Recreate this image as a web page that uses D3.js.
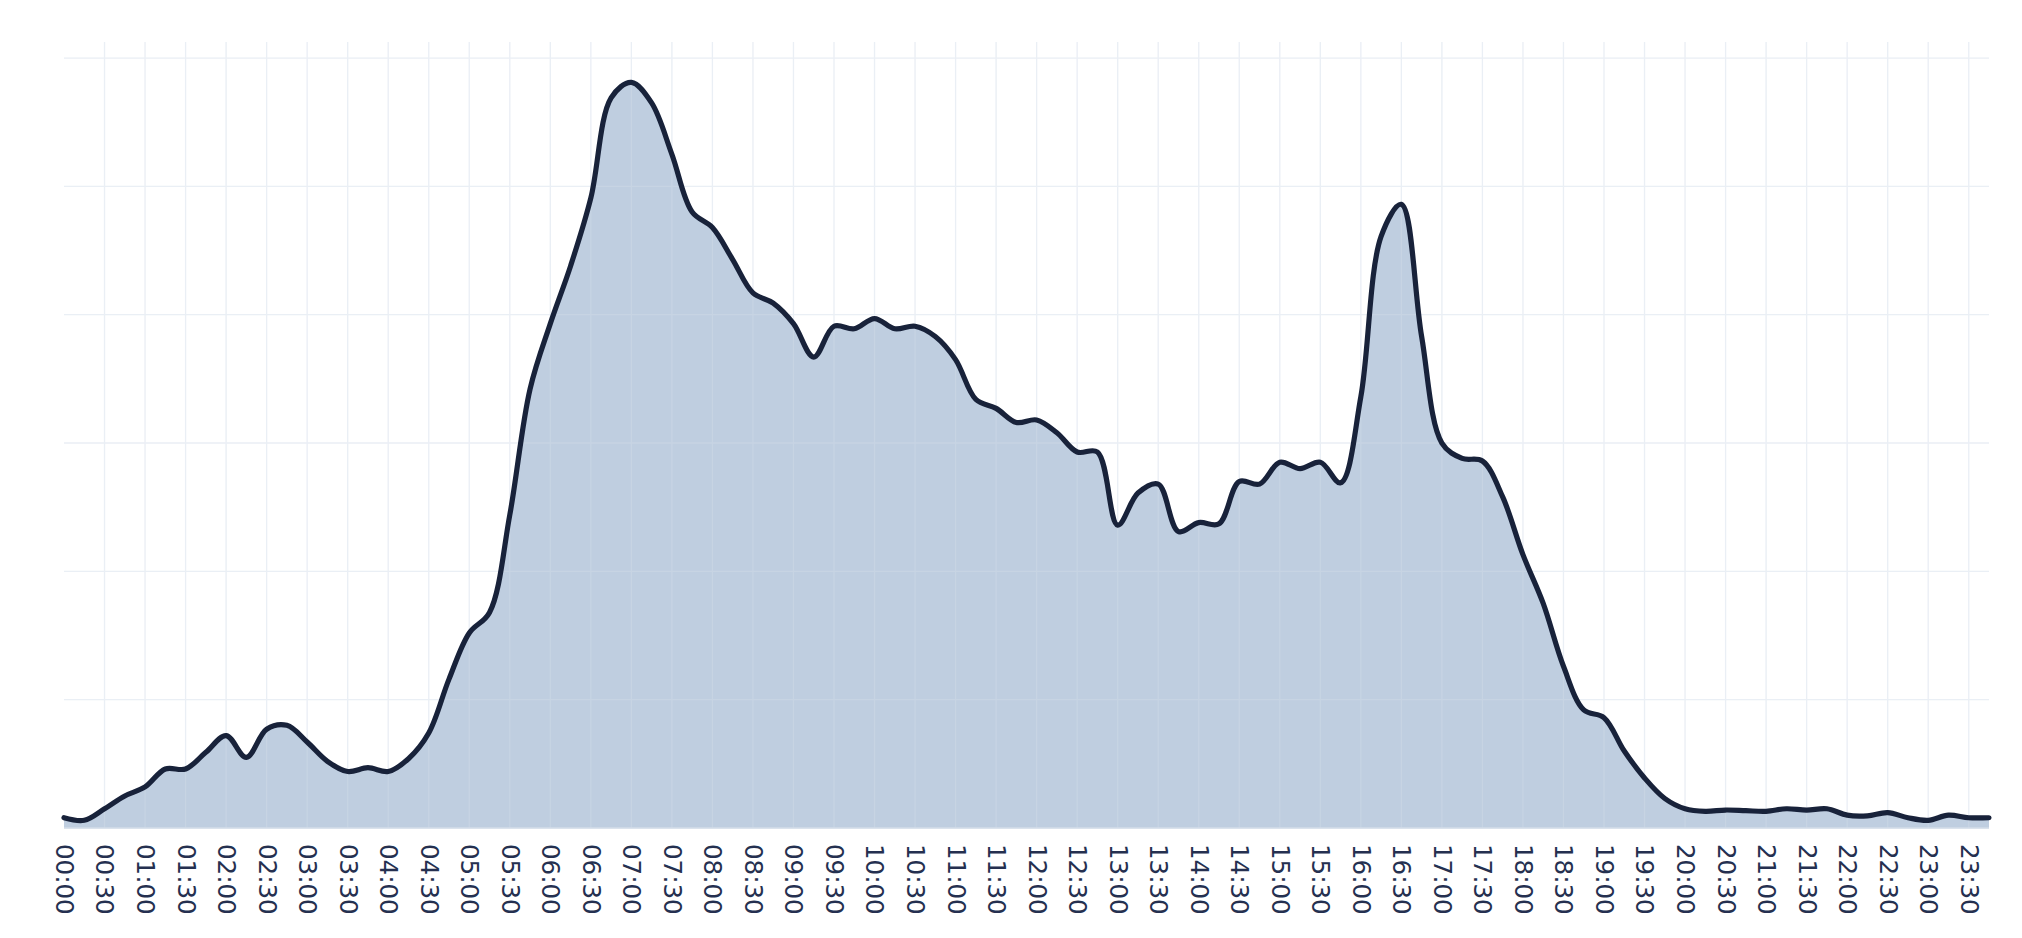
<!DOCTYPE html>
<html>
<head>
<meta charset="utf-8">
<script src="https://cdn.jsdelivr.net/npm/d3@7"></script>
<style>
  html, body { margin: 0; padding: 0; background: #ffffff; }
  svg { display: block; }
</style>
</head>
<body>
<svg id="chart" width="2022" height="938"></svg>
<script>
// ---- Data (y in arbitrary units, gridline every 10) ----
const times = [
  "00:00","00:15","00:30","00:45","01:00","01:15","01:30","01:45",
  "02:00","02:15","02:30","02:45","03:00","03:15","03:30","03:45",
  "04:00","04:15","04:30","04:45","05:00","05:15","05:30","05:45",
  "06:00","06:15","06:30","06:45","07:00","07:15","07:30","07:45",
  "08:00","08:15","08:30","08:45","09:00","09:15","09:30","09:45",
  "10:00","10:15","10:30","10:45","11:00","11:15","11:30","11:45",
  "12:00","12:15","12:30","12:45","13:00","13:15","13:30","13:45",
  "14:00","14:15","14:30","14:45","15:00","15:15","15:30","15:45",
  "16:00","16:15","16:30","16:45","17:00","17:15","17:30","17:45",
  "18:00","18:15","18:30","18:45","19:00","19:15","19:30","19:45",
  "20:00","20:15","20:30","20:45","21:00","21:15","21:30","21:45",
  "22:00","22:15","22:30","22:45","23:00","23:15","23:30","23:45"
];
const values = [
  0.8, 0.6, 1.5, 2.5, 3.2, 4.6, 4.6, 5.9,
  7.2, 5.5, 7.7, 8.0, 6.7, 5.2, 4.4, 4.7,
  4.4, 5.4, 7.4, 11.6, 15.2, 16.8, 24.4, 34.2,
  39.3, 43.8, 49.1, 56.9, 58.1, 56.5, 52.5, 48.0,
  46.8, 44.3, 41.7, 40.9, 39.3, 36.7, 39.1, 38.9,
  39.7, 38.9, 39.1, 38.3, 36.5, 33.4, 32.7, 31.6,
  31.8, 30.8, 29.3, 29.3, 23.6, 26.1, 26.8, 23.1,
  23.8, 23.7, 27.0, 26.8, 28.5, 28.0, 28.5, 26.9,
  33.6, 46.1, 48.6, 38.3, 30.0, 28.8, 28.6, 25.8,
  21.3, 17.5, 12.6, 9.2, 8.6, 6.0, 3.9, 2.3,
  1.5, 1.3, 1.4, 1.35, 1.3, 1.5, 1.4, 1.5,
  1.0, 0.95, 1.2, 0.8, 0.6, 1.0, 0.8, 0.8
];
const tickLabels = [
  "00:00","00:30","01:00","01:30","02:00","02:30","03:00","03:30",
  "04:00","04:30","05:00","05:30","06:00","06:30","07:00","07:30",
  "08:00","08:30","09:00","09:30","10:00","10:30","11:00","11:30",
  "12:00","12:30","13:00","13:30","14:00","14:30","15:00","15:30",
  "16:00","16:30","17:00","17:30","18:00","18:30","19:00","19:30",
  "20:00","20:30","21:00","21:30","22:00","22:30","23:00","23:30"
];
const yTicks = [0, 10, 20, 30, 40, 50, 60];

(function () {
  // ---- Helpers ----
  const toMin = s => { const [h, m] = s.split(":").map(Number); return h * 60 + m; };
  const data = times.map((t, i) => ({ m: toMin(t), v: values[i] }));
  const tickMins = tickLabels.map(toMin);

  // ---- Layout ----
  const plotLeft = 64, plotRight = 1989, plotTop = 42, plotBottom = 828;
  const svg = d3.select("#chart");

  const x = d3.scaleLinear().domain([0, toMin(times[times.length - 1])]).range([plotLeft, plotRight]);
  const y = d3.scaleLinear().domain([0, 61.25]).range([plotBottom, plotTop]);

  const gridColor = "#e8edf4";

  // gridlines beneath fill
  const gridUnder = svg.append("g");
  gridUnder.selectAll("line.v").data(tickMins.filter(m => m > 0)).join("line")
    .attr("class", "v")
    .attr("x1", d => x(d)).attr("x2", d => x(d))
    .attr("y1", plotTop).attr("y2", plotBottom)
    .attr("stroke", gridColor).attr("stroke-width", 1.3);
  gridUnder.selectAll("line.h").data(yTicks).join("line")
    .attr("class", "h")
    .attr("x1", plotLeft).attr("x2", plotRight)
    .attr("y1", d => y(d)).attr("y2", d => y(d))
    .attr("stroke", gridColor).attr("stroke-width", 1.3);

  // area fill
  const curve = d3.curveCatmullRom.alpha(0.5);
  svg.append("path")
    .datum(data)
    .attr("fill", "#bfcee0")
    .attr("d", d3.area().x(d => x(d.m)).y0(y(0)).y1(d => y(d.v)).curve(curve));

  // faint gridlines over the fill
  const gridOver = svg.append("g").attr("opacity", 0.12);
  gridOver.selectAll("line.v").data(tickMins.filter(m => m > 0)).join("line")
    .attr("class", "v")
    .attr("x1", d => x(d)).attr("x2", d => x(d))
    .attr("y1", plotTop).attr("y2", plotBottom)
    .attr("stroke", "#ffffff").attr("stroke-width", 1.3);
  gridOver.selectAll("line.h").data(yTicks.filter(v => v > 0)).join("line")
    .attr("class", "h")
    .attr("x1", plotLeft).attr("x2", plotRight)
    .attr("y1", d => y(d)).attr("y2", d => y(d))
    .attr("stroke", "#ffffff").attr("stroke-width", 1.3);

  // zero line
  svg.append("line")
    .attr("x1", plotLeft).attr("x2", plotRight)
    .attr("y1", y(0)).attr("y2", y(0))
    .attr("stroke", "#d3dde9").attr("stroke-width", 1.5);

  // line
  svg.append("path")
    .datum(data)
    .attr("fill", "none")
    .attr("stroke", "#18223a")
    .attr("stroke-width", 5.2)
    .attr("stroke-linejoin", "round")
    .attr("stroke-linecap", "round")
    .attr("d", d3.line().x(d => x(d.m)).y(d => y(d.v)).curve(curve));

  // x axis
  const xAxis = d3.axisBottom(x)
    .tickValues(tickMins)
    .tickFormat((d, i) => tickLabels[i])
    .tickSize(0);
  const gx = svg.append("g").attr("transform", `translate(0,${plotBottom})`).call(xAxis);
  gx.select(".domain").remove();
  gx.selectAll("text")
    .attr("y", 0)
    .attr("x", 16)
    .attr("dy", "0.35em")
    .attr("transform", "rotate(90)")
    .style("text-anchor", "start")
    .style("font-family", "'DejaVu Sans', sans-serif")
    .style("font-size", "24.5px")
    .attr("fill", "#253050");
})();
</script>
</body>
</html>
